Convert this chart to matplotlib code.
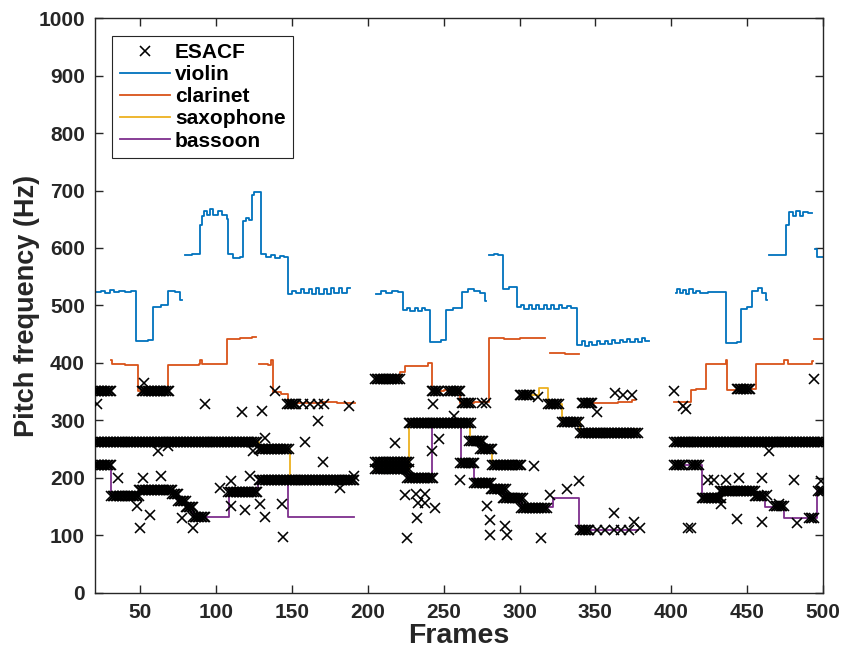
import numpy as np
import matplotlib
matplotlib.use('Agg')
import matplotlib.pyplot as plt

nan = float('nan')

# ---------------- instrument pitch tracks (step breakpoints, NaN = gap) ----------------
violin_frames = [20, 24, 27, 30, 33, 36, 40, 44, 47.5, 55, 58.7, 64, 68.6, 73, 76.5, 77.5,
                 79.6, 84, 89.5, 90.5, 92, 94, 96, 98, 101, 104, 107, 108, 111, 116, 118, 120, 122,
                 123.5, 125, 129.5, 133, 136, 139, 142, 145, 147.7, 150, 153, 156, 158, 161, 163, 166,
                 168, 171, 173, 176, 178, 181, 183, 186, 188.4,
                 205.6, 209, 212, 216, 220, 223.2, 226, 228, 231, 233, 236, 238, 241.2, 248, 251.7, 256,
                 262, 266, 270, 274, 277, 277.8,
                 279.6, 283, 286, 289, 293, 298.3, 301, 303, 306, 308, 311, 313, 316, 318, 321, 323, 326,
                 328, 331, 334, 338, 341, 343, 346, 348, 351, 353, 356, 358, 361, 363, 366, 368, 371, 373,
                 376, 378, 381, 383, 385.2,
                 402.8, 404, 406, 408, 410, 412, 414, 416, 419, 424, 430,
                 435.8, 443, 445.7, 450, 453.4, 457, 460, 462.2, 463,
                 464.3, 470, 475.3, 477.3, 480, 482, 485, 487, 490, 493, 495, 496, 500]
violin_hz = [523, 526, 522, 527, 524, 526, 524, 525, 438, 440, 497, 500, 526, 523, 510, nan,
             588, 590, 640, 655, 664, 658, 667, 657, 664, 658, 650, 590, 583, 585, 647, 652, 648,
             692, 697, 590, 584, 587, 582, 586, 584, 520, 525, 522, 529, 521, 529, 520, 530,
             520, 529, 520, 530, 521, 530, 521, 530, nan,
             520, 525, 522, 526, 524, 492, 496, 490, 496, 490, 495, 492, 436, 440, 493, 496,
             523, 528, 525, 521, 507, nan,
             587, 590, 588, 529, 532, 497, 501, 494, 500, 494, 500, 494, 500, 494, 500, 494, 500,
             495, 499, 496, 432, 438, 430, 437, 432, 438, 433, 438, 433, 440, 434, 440, 436, 442, 436,
             442, 437, 443, 438, nan,
             522, 528, 521, 527, 520, 528, 521, 526, 522, 524, 523,
             435, 437, 494, 497, 526, 530, 522, 510, nan,
             587, 588, 640, 662, 655, 665, 656, 663, 660, nan, 598, 584, 584]

clarinet_frames = [30.5, 31.5, 40, 48.8, 56, 60, 68.6, 89, 89.5, 91, 107, 116, 124, 126.4,
                   128, 134, 136, 137.4, 143, 147.7, 160, 170, 180, 191.5,
                   207, 213, 218, 221, 224.7, 235, 240, 242.3, 250, 261, 270, 279.6, 290, 300, 310, 317,
                   320.3, 330, 339,
                   341.2, 355, 365, 374, 376.4,
                   401.7, 412.7, 416, 422.6, 430, 436, 437, 445, 455.6, 472, 474, 477, 491, 492.5, 493.5,
                   494, 500]
clarinet_hz = [405, 398, 397, 352, 348, 352, 397, 399, 405, 398, 441, 443, 445, nan,
               398, 396, 405, 349, 346, 331, 330, 333, 330, nan,
               377, 375, 378, 385, 395, 394, 400, 351, 353, 331, 333, 443, 442, 444, 443, nan,
               418, 416, nan,
               331, 331, 333, 336, nan,
               332, 353, 355, 398, 398, 405, 353, 355, 398, 398, 406, 398, 398, 403, nan,
               441, 442]

saxophone_frames = [20, 128, 148.9, 191,
                    205, 227, 267.5, 275, 282, 300.5, 301, 313, 319, 328, 340, 376.5, 377.5,
                    402, 500]
saxophone_hz = [263, 250, 197, nan,
                212, 296, 268, 252, 223, nan, 345, 356, 328, 297, 279, 285, nan,
                262, 262]

bassoon_frames = [20, 30.5, 49, 71, 75, 80, 85, 108.6, 127.5, 147.7, 191,
                  205, 226, 242.5, 261.4, 270, 281, 290, 301, 322, 339, 378,
                  402, 420, 433, 455, 462, 474, 496, 500]
bassoon_hz = [222, 170, 178, 172, 160, 150, 133, 180, 195, 133, nan,
              225, 200, 295, 228, 195, 180, 166, 149, 166, 110, nan,
              222, 168, 177, 168, 150, 130, 177, 177]

# ---------------- ESACF estimates ----------------
# runs of frames whose estimate stays at one value
esacf_run_start = [20, 20, 20, 31, 49, 71, 75, 80, 85, 51, 108, 128, 128, 147,
                   205, 205, 205, 226, 227, 242, 253, 261, 262, 267, 274, 282, 270, 281, 289, 301,
                   300, 319, 328, 340, 340, 341,
                   402, 402, 413, 420, 432, 455, 443, 468, 491, 497]
esacf_run_end = [31, 31, 127, 49, 71, 75, 80, 85, 93, 69, 127, 148, 191, 153,
                 221, 227, 227, 243, 268, 247, 261, 270, 268, 276, 282, 301, 281, 291, 302, 318,
                 307, 326, 339, 378, 346, 348,
                 500, 408, 418, 433, 455, 461, 452, 474, 494, 500]
esacf_run_hz = [352, 222, 263, 169, 179, 172, 160, 150, 133, 351, 176, 250, 197, 329,
                372, 216, 228, 200, 295, 351, 351, 226, 331, 264, 250, 223, 192, 180, 166, 148,
                345, 328, 297, 279, 110, 330,
                262, 222, 222, 166, 177, 168, 354, 152, 130, 177]
# isolated estimates
esacf_extra_frames = [21.5, 52.5, 93, 117, 130, 138.9, 157, 162, 167.5, 167, 171, 187.3, 132, 158.7,
                      170.8, 124.6, 62, 68.6, 35.6, 52, 64, 110, 102.6, 122.4, 47.7, 56.5, 49.9, 85,
                      77.4, 110, 119, 129, 132.3, 143.3, 144.4, 181.8, 190.6,
                      243, 256.6, 218, 246.7, 242.3, 309.3, 224.7, 232, 238, 233, 238, 244.5, 232.4,
                      225.8, 261, 278.6, 280.7, 280.7, 290.6, 291.8, 313.9, 339, 331.3, 320.3, 362,
                      375.3, 379.7, 351, 356, 362, 367, 372, 363, 368, 374, 351, 275, 278, 312,
                      401.7, 408, 410, 494, 464.3, 424, 428, 436, 444.6, 460, 481, 498.5, 411, 413,
                      443.5, 460, 483, 499.6, 463.3, 471, 432.5]
esacf_extra_hz = [328, 366, 328, 314, 316, 351, 329, 329, 299, 329, 329, 325, 270, 262,
                  227, 247, 247, 255, 200, 200, 203, 194, 183, 203, 151, 136, 113, 113,
                  130, 151, 145, 154, 133, 154, 98, 183, 203,
                  328, 308, 261, 267, 247, 220, 171, 172, 172, 157, 157, 148, 130,
                  95, 197, 151, 127, 101, 116, 101, 95, 194, 180, 171, 139,
                  124, 113, 110, 110, 110, 110, 110, 348, 345, 345, 314, 331, 331, 340,
                  351, 325, 320, 373, 247, 197, 197, 197, 200, 200, 197, 194, 113, 113,
                  128, 123, 122, 177, 171, 154, 154]

x_ticks = [50, 100, 150, 200, 250, 300, 350, 400, 450, 500]
y_ticks = [0, 100, 200, 300, 400, 500, 600, 700, 800, 900, 1000]

# ---------------- drawing ----------------
plt.rcParams['font.family'] = ['Liberation Sans', 'DejaVu Sans']
plt.rcParams['font.weight'] = 'bold'
plt.rcParams['axes.labelweight'] = 'bold'

dark = '#262626'
fig = plt.figure(figsize=(8.43, 6.55), dpi=100)
ax = fig.add_axes([0.1123, 0.0947, 0.8640, 0.8778])

ef = np.concatenate([np.arange(s, e + 1) for s, e in zip(esacf_run_start, esacf_run_end)] +
                    [np.asarray(esacf_extra_frames, float)])
ev = np.concatenate([np.full(e - s + 1, v, float) for s, e, v in
                     zip(esacf_run_start, esacf_run_end, esacf_run_hz)] +
                    [np.asarray(esacf_extra_hz, float)])

h_e, = ax.plot(ef, ev, linestyle='none', marker='x', color='k', ms=7, mew=1.15, zorder=3)
lw = 1.3
h_v, = ax.plot(violin_frames, violin_hz, drawstyle='steps-post', color='#0072BD', lw=lw, zorder=2)
h_c, = ax.plot(clarinet_frames, clarinet_hz, drawstyle='steps-post', color='#D95319', lw=lw, zorder=2)
h_s, = ax.plot(saxophone_frames, saxophone_hz, drawstyle='steps-post', color='#EDB120', lw=lw, zorder=2)
h_b, = ax.plot(bassoon_frames, bassoon_hz, drawstyle='steps-post', color='#7E2F8E', lw=lw, zorder=2)

ax.set_xlim(20, 500)
ax.set_ylim(0, 1000)
ax.set_xticks(x_ticks)
ax.set_yticks(y_ticks)
ax.tick_params(direction='in', top=True, right=True, length=6, width=1, colors=dark,
               labelsize=15, pad=7)
for lab in ax.get_xticklabels() + ax.get_yticklabels():
    lab.set_fontweight('bold')
for sp in ax.spines.values():
    sp.set_color(dark)
    sp.set_linewidth(1)

ax.set_xlabel('Frames', fontsize=20.5, fontweight='bold', color=dark, labelpad=1)
ax.set_ylabel('Pitch frequency (Hz)', fontsize=19.5, fontweight='bold', color=dark, labelpad=-1)

leg = ax.legend([h_e, h_v, h_c, h_s, h_b], ['ESACF', 'violin', 'clarinet', 'saxophone', 'bassoon'],
                loc='upper left', fontsize=15, numpoints=1, handlelength=2.4, handletextpad=0.25,
                labelspacing=0.15, borderpad=0.35, borderaxespad=0.85, fancybox=False,
                framealpha=1, edgecolor=dark)
leg.get_frame().set_linewidth(0.8)
leg.legend_handles[0].set_markersize(7)
for t in leg.get_texts():
    t.set_fontweight('bold')

fig.savefig('out.png', dpi=100)
